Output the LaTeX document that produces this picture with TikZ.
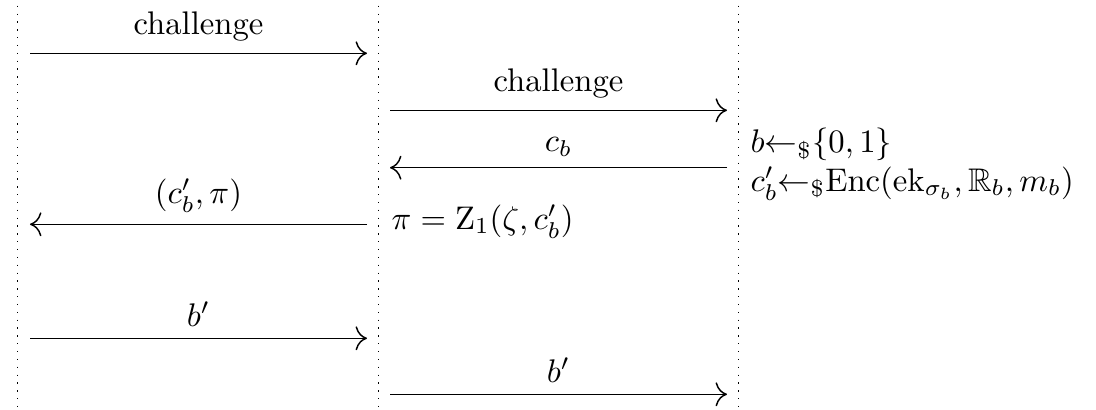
\documentclass[tikz,border=0pt]{standalone}
\usepackage{amssymb}
\usetikzlibrary{arrows.meta}
\begin{document}
\begin{tikzpicture}[x=0.3058pt,y=-0.3058pt,
  lifeline/.style={dotted},
  msg/.style={-{To[scale=1.35]},line width=0.45pt},
  lbl/.style={above},
  note/.style={anchor=base west,inner sep=0pt}]
\useasboundingbox (0,0) rectangle (1096,410);
% lifelines
\coordinate (L1t) at (17.7,-10);  \coordinate (L1b) at (17.7,420);
\coordinate (L2t) at (378.6,-10); \coordinate (L2b) at (378.6,420);
\coordinate (L3t) at (738.5,-10); \coordinate (L3b) at (738.5,420);
\draw[lifeline] (L1t) -- (L1b);
\draw[lifeline] (L2t) -- (L2b);
\draw[lifeline] (L3t) -- (L3b);
% message end points
\coordinate (a1) at (30,53.3);   \coordinate (b1) at (367,53.3);
\coordinate (a2) at (390,110.3); \coordinate (b2) at (727,110.3);
\coordinate (a3) at (727,167.7); \coordinate (b3) at (390,167.7);
\coordinate (a4) at (367,224.3); \coordinate (b4) at (30,224.3);
\coordinate (a5) at (30,338.3);  \coordinate (b5) at (367,338.3);
\coordinate (a6) at (390,394.3); \coordinate (b6) at (727,394.3);
\draw[msg] (a1) -- node[lbl] (t1) {challenge} (b1);
\draw[msg] (a2) -- node[lbl] (t2) {challenge} (b2);
\draw[msg] (a3) -- node[lbl] (t3) {$c_b$} (b3);
\draw[msg] (a4) -- node[lbl] (t4) {$(c_b',\pi)$} (b4);
\draw[msg] (a5) -- node[lbl] (t5) {$b'$} (b5);
\draw[msg] (a6) -- node[lbl] (t6) {$b'$} (b6);
% notes
\node[note] (n1) at (750,153) {$b{\leftarrow_{\$}}\{0,1\}$};
\node[note] (n2) at (750,191) {$c_b'{\leftarrow_{\$}}\mathrm{Enc}(\mathrm{ek}_{\sigma_b},\mathbb{R}_b,m_b)$};
\node[note] (n3) at (391,229) {$\pi=\mathrm{Z}_1(\zeta,c_b')$};
\end{tikzpicture}
\end{document}
